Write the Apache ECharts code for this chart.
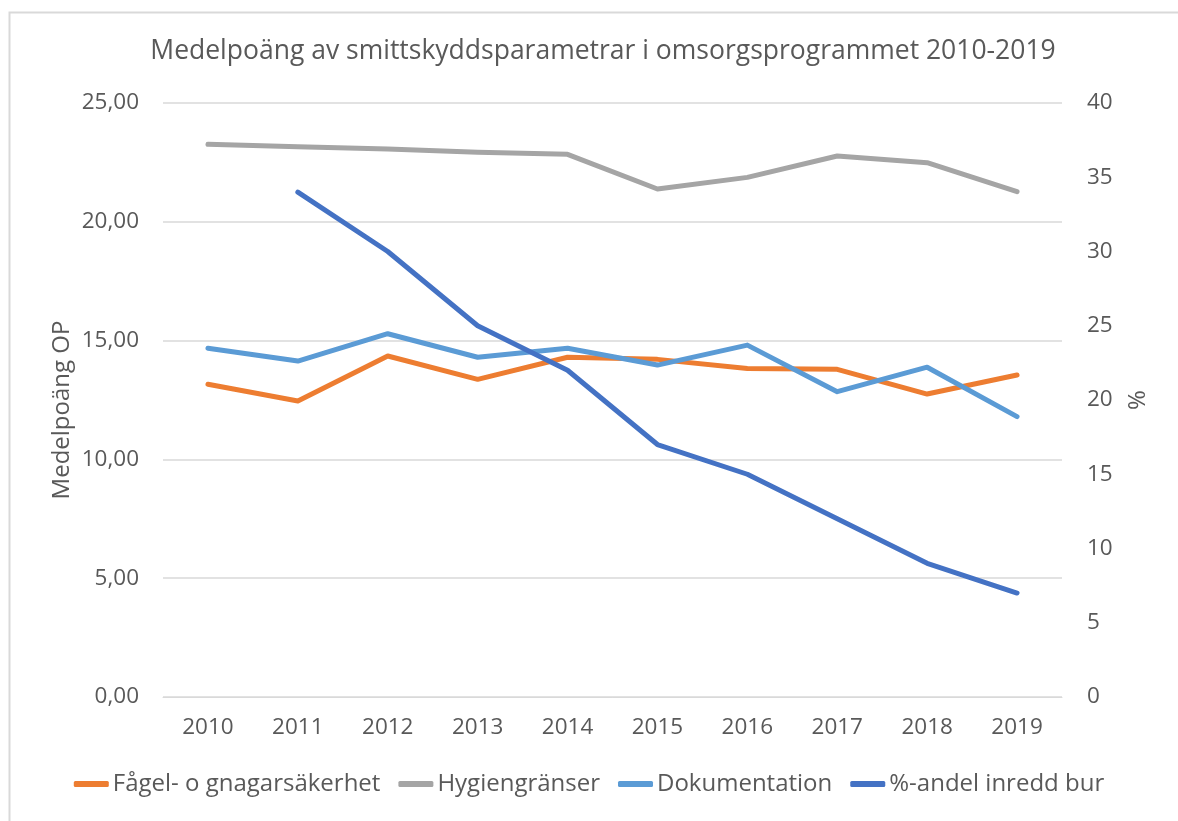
<!DOCTYPE html>
<html>
<head>
<meta charset="utf-8">
<script src="https://cdn.jsdelivr.net/npm/echarts@6/dist/echarts.min.js"></script>
<style>
html,body{margin:0;padding:0;background:#fff;}
#c{width:1178px;height:821px;}
</style>
</head>
<body>
<div id="c"></div>
<script>
const years = ['2010','2011','2012','2013','2014','2015','2016','2017','2018','2019'];
const fagel = [13.16, 12.46, 14.35, 13.37, 14.30, 14.21, 13.83, 13.79, 12.75, 13.55];
const hygien = [23.26, 23.16, 23.06, 22.93, 22.84, 21.38, 21.87, 22.77, 22.49, 21.27];
const dokumentation = [14.68, 14.14, 15.29, 14.30, 14.68, 13.97, 14.81, 12.85, 13.88, 11.80];
const inreddBur = [null, 34, 30, 25, 22, 17, 15, 12, 9, 7];
const seriesNames = ['Fågel- o gnagarsäkerhet', 'Hygiengränser', 'Dokumentation', '%-andel inredd bur'];
const leftAxisName = 'Medelpoäng OP';

const FONT = '"Open Sans", sans-serif';
const TXT = '#595959';
const chart = echarts.init(document.getElementById('c'), null, {renderer: 'canvas'});
const mk = (name, data, color, axis) => ({
  name, type: 'line', data, yAxisIndex: axis, symbol: 'none', smooth: false,
  connectNulls: false,
  lineStyle: {color, width: 5, cap: 'round', join: 'round'},
  itemStyle: {color}
});
chart.setOption({
  animation: false,
  backgroundColor: '#fff',
  graphic: [{
    type: 'rect', left: 7, top: 10, shape: {width: 1200, height: 900},
    style: {fill: 'none', stroke: '#D9D9D9', lineWidth: 2}, z: -1
  }, {
    type: 'text', x: 62, y: 410, rotation: Math.PI / 2,
    style: {text: leftAxisName, font: '24px "Open Sans", sans-serif', fill: TXT,
      textAlign: 'center', textVerticalAlign: 'middle'}
  }],
  title: {
    text: 'Medelpoäng av smittskyddsparametrar i omsorgsprogrammet 2010-2019',
    left: 598, top: 33, textAlign: 'center',
    textStyle: {fontFamily: FONT, fontSize: 26.5, fontWeight: 'normal', color: TXT}
  },
  legend: {
    data: seriesNames, bottom: 20, left: 'center', itemWidth: 35, itemHeight: 6, itemGap: 18,
    icon: 'roundRect',
    textStyle: {fontFamily: FONT, fontSize: 24, color: TXT, padding: [0,0,0,-1]}
  },
  grid: {left: 163, right: 116, top: 103, bottom: 124, containLabel: false},
  xAxis: {
    type: 'category', data: years, boundaryGap: true,
    axisLine: {show: true, lineStyle: {color: '#D9D9D9', width: 1}},
    axisTick: {show: false},
    axisLabel: {fontFamily: FONT, fontSize: 22.5, color: TXT, margin: 19}
  },
  yAxis: [{
    type: 'value', min: 0, max: 25, interval: 5,
    axisLabel: {fontFamily: FONT, fontSize: 22.5, color: TXT, margin: 24,
      formatter: v => v.toFixed(2).replace('.', ',')},
    axisLine: {show: false}, axisTick: {show: false},
    splitLine: {lineStyle: {color: '#D9D9D9', width: 1.5}}
  }, {
    type: 'value', min: 0, max: 40, interval: 5,
    name: '%', nameLocation: 'middle', nameGap: 64, nameRotate: 90,
    nameTextStyle: {fontFamily: FONT, fontSize: 24, color: TXT},
    axisLabel: {fontFamily: FONT, fontSize: 22.5, color: TXT, margin: 25},
    axisLine: {show: false}, axisTick: {show: false},
    splitLine: {show: false}
  }],
  series: [
    mk(seriesNames[0], fagel, '#ED7D31', 0),
    mk(seriesNames[1], hygien, '#A5A5A5', 0),
    mk(seriesNames[2], dokumentation, '#5B9BD5', 0),
    mk(seriesNames[3], inreddBur, '#4472C4', 1)
  ]
});
</script>
</body>
</html>
